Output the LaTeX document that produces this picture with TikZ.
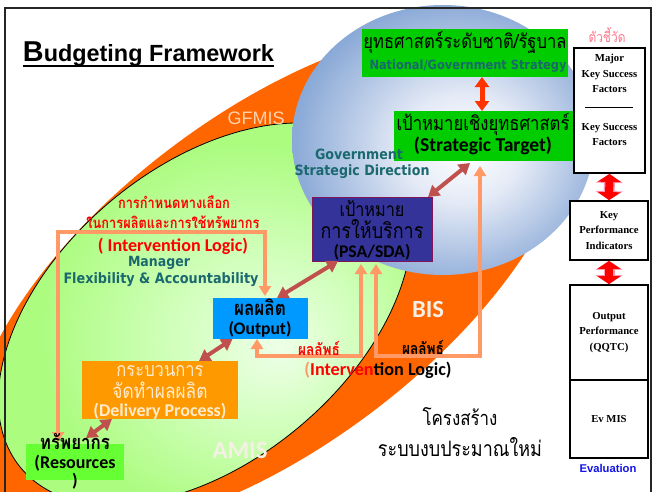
\documentclass[tikz,border=0pt]{standalone}
\usepackage{fontspec}
\usepackage{graphicx}
\usetikzlibrary{arrows.meta}
\setmainfont{Liberation Serif}
\newfontfamily\thai[Script=Thai]{Loma}
\newfontfamily\carl{Carlito}
\newfontfamily\dvs{DejaVu Sans}
\newfontfamily\lsans{Liberation Sans}
\newcommand\fw[2]{\resizebox{#1pt}{!}{#2}}
\newcommand\ft[2]{\scalebox{1}[1.18]{\resizebox{#1pt}{!}{\thai #2}}}
\newcommand\fd[2]{\scalebox{1}[1.12]{\resizebox{#1pt}{!}{\dvs\bfseries #2}}}
\definecolor{orangeC}{RGB}{255,102,0}
\definecolor{greenA}{RGB}{172,252,128}
\definecolor{greenM}{RGB}{212,255,192}
\definecolor{greenB}{RGB}{238,255,232}
\definecolor{blueA}{RGB}{72,116,184}
\definecolor{blueA2}{RGB}{86,130,194}
\definecolor{blueM}{RGB}{142,172,216}
\definecolor{blueL}{RGB}{228,234,246}
\definecolor{boxgreen}{RGB}{0,204,0}
\definecolor{tealT}{RGB}{25,105,110}
\definecolor{psaC}{RGB}{51,51,153}
\definecolor{psaB}{RGB}{130,20,90}
\definecolor{outC}{RGB}{0,153,255}
\definecolor{delC}{RGB}{255,153,0}
\definecolor{delT}{RGB}{255,235,205}
\definecolor{resC}{RGB}{102,255,51}
\definecolor{salmon}{RGB}{255,153,102}
\definecolor{dred}{RGB}{192,80,77}
\definecolor{redT}{RGB}{255,0,0}
\definecolor{pinkT}{RGB}{255,120,140}
\definecolor{oarrow}{RGB}{255,51,0}
\definecolor{gfmisT}{RGB}{255,210,175}
\definecolor{lightT}{RGB}{245,240,230}
\definecolor{evalT}{RGB}{20,20,230}
\definecolor{redglow}{RGB}{255,150,180}
\pgfdeclareradialshading{circglow}{\pgfpoint{4bp}{-2bp}}{color(0bp)=(white); color(10bp)=(blueL); color(26bp)=(blueM); color(40bp)=(blueA2); color(50bp)=(blueA)}
\pgfdeclareradialshading{greenglow}{\pgfpoint{8bp}{-4bp}}{color(0bp)=(greenB); color(9bp)=(greenM); color(22bp)=(greenA); color(50bp)=(greenA)}
\begin{document}
\begin{tikzpicture}[x=1pt,y=-1pt,
  txt/.style={inner sep=0pt, outer sep=0pt},
  fbox/.style={inner sep=0pt, outer sep=0pt},
  rbox/.style={draw=black, line width=1.8pt, fill=white, inner sep=0pt},
  rtext/.style={inner sep=0pt, font=\bfseries\fontsize{10.7}{15.5}\selectfont, align=center},
  darr/.style={draw=dred, line width=4pt, {Triangle[width=13pt,length=11pt]}-{Triangle[width=13pt,length=11pt]}},
  salm/.style={draw=salmon, line width=4pt, line join=miter, {Triangle[width=12pt,length=10pt]}-{Triangle[width=12pt,length=10pt]}},
  barrout/.style={draw=redglow, line width=11pt, {Triangle[width=27pt,length=9pt]}-{Triangle[width=27pt,length=9pt]}},
  barr/.style={draw=red, line width=8pt, {Triangle[width=23pt,length=8pt]}-{Triangle[width=23pt,length=8pt]}},
  oarr/.style={draw=oarrow, line width=5pt, {Triangle[width=14pt,length=10pt]}-{Triangle[width=14pt,length=10pt]}}
]
\useasboundingbox (0,0) rectangle (653,491);
\clip (0,0) rectangle (653,491);
\fill[white] (0,0) rectangle (653,491);
% outer orange ellipse
\begin{scope}[shift={(271.5,280)}, rotate=37]
  \fill[orangeC] (0,0) ellipse [x radius=357, y radius=166];
\end{scope}
% green ellipse
\begin{scope}[shift={(205,314)}, rotate=40]
  \shadedraw[shading=greenglow, draw=black, line width=0.8pt] (0,0) ellipse [x radius=240, y radius=147];
\end{scope}
% blue circle
\shade[shading=circglow] (443,140) ellipse [x radius=151, y radius=135];
% frame
\draw[line width=2.5pt, black!85] (5,8) rectangle (651,540);

% title
\node[txt, anchor=base west] (title) at (23,61) {\fw{251}{\lsans\bfseries{\fontsize{27}{27}\selectfont B}{\fontsize{22}{22}\selectfont udgeting Framework}}};
\draw[line width=1.8pt] ([yshift=-5pt]title.base west) -- ([yshift=-5pt]title.base east);

% region labels
\node[txt, text=gfmisT] (gf) at (256,118) {\fw{57}{\lsans GFMIS}};
\node[txt, text=lightT] (bis) at (428,310) {\fw{32}{\carl\bfseries BIS}};
\node[txt, text=lightT] (amis) at (240,450) {\fw{55}{\carl\bfseries AMIS}};

% boxes
\node[fbox, fill=boxgreen, minimum width=206pt, minimum height=48pt] (nat) at (465,53) {};
\node[fbox, fill=boxgreen, minimum width=179pt, minimum height=50pt] (strat) at (483.5,136) {};
\node[fbox, fill=psaC, draw=psaB, line width=0.8pt, minimum width=120pt, minimum height=64pt] (psa) at (372,229) {};
\node[fbox, fill=outC, minimum width=95pt, minimum height=41pt] (out) at (260.5,318.5) {};
\node[fbox, fill=delC, minimum width=156pt, minimum height=58pt] (del) at (160,390) {};
\node[fbox, fill=resC, minimum width=98pt, minimum height=36pt] (res) at (75,462) {};

% right column
\node[txt, text=pinkT] (kw) at (607,35) {\ft{37}{ตัวชี้วัด}};
\node[rbox, minimum width=71pt, minimum height=125pt] (ksf) at (609.5,110.5) {};
\node[rtext] (ksf1) at (609.5,73.5) {Major\\Key Success\\Factors};
\node[rtext] (ksf2) at (609.5,134.5) {Key Success\\Factors};
\draw[line width=1pt] (585,107) -- (633,107);
\node[rbox, rtext, minimum width=78pt, minimum height=59pt] (kpi) at (609,230.5) {Key\\Performance\\Indicators};
\node[rbox, rtext, minimum width=78pt, minimum height=95pt] (opf) at (609,332.5) {Output\\Performance\\(QQTC)};
\node[rbox, rtext, minimum width=78pt, minimum height=78pt] (evm) at (609,419) {Ev MIS};
\node[txt, text=evalT] (ev) at (608,468) {\fw{57}{\lsans\bfseries Evaluation}};
\draw[barrout] (ksf.south) -- (kpi.north);
\draw[barr] (ksf.south) -- (kpi.north);
\draw[barrout] (kpi.south) -- (opf.north);
\draw[barr] (kpi.south) -- (opf.north);

% connectors
\draw[oarr] ([xshift=17pt]nat.south) -- ([xshift=-1.5pt]strat.north);
\draw[darr] ([xshift=-13.5pt,yshift=-2pt]strat.south) -- ([xshift=-4pt]psa.north east);
\draw[darr] ([xshift=16.5pt]out.north) -- ([xshift=-34pt]psa.south);
\draw[darr] ([xshift=39pt]del.north) -- ([xshift=-28pt]out.south);
\draw[darr] ([xshift=11pt,yshift=6pt]res.north) -- ([xshift=-48pt]del.south);
\coordinate (ltop) at (160,232);
\coordinate (mbot) at (300,356);
\coordinate (rbot) at (430,356);
\draw[salm] ([xshift=-17pt,yshift=2pt]res.north) |- (ltop) -| ([xshift=4.5pt,yshift=2pt]out.north);
\draw[salm] ([xshift=-3.5pt]out.south) |- (mbot) -| ([xshift=-11pt,yshift=-3pt]psa.south);
\draw[salm] ([xshift=4pt,yshift=-3pt]psa.south) |- (rbot) -| ([xshift=-3.5pt,yshift=-5pt]strat.south);

% box texts
\node[txt] (n1) at (465,42) {\ft{203}{ยุทธศาสตร์ระดับชาติ/รัฐบาล}};
\node[txt, text=tealT] (n2) at (468,66) {\fd{197}{National/Government Strategy}};
\node[txt] (s1) at (483,124) {\ft{173}{เป้าหมายเชิงยุทธศาสตร์}};
\node[txt] (s2) at (483,146) {\fw{138}{\carl\bfseries (Strategic Target)}};
\node[txt, text=tealT] (g1) at (359,154) {\fd{88}{Government}};
\node[txt, text=tealT] (g2) at (362,172) {\fd{135}{Strategic Direction}};
\node[txt] (p1) at (372,209) {\ft{65}{เป้าหมาย}};
\node[txt] (p2) at (372,229) {\ft{103}{การให้บริการ}};
\node[txt] (p3) at (372,252) {\fw{77}{\carl\bfseries (PSA/SDA)}};
\node[txt] (o1) at (260,307) {\ft{52}{\bfseries ผลผลิต}};
\node[txt] (o2) at (260,329) {\fw{63}{\carl\bfseries (Output)}};
\node[txt, text=delT] (d1) at (160,371) {\ft{87}{กระบวนการ}};
\node[txt, text=delT] (d2) at (160,390) {\ft{95}{จัดทำผลผลิต}};
\node[txt, text=delT] (d3) at (160,411) {\fw{133}{\carl\bfseries (Delivery Process)}};
\node[txt] (r1) at (75,442) {\ft{70}{\bfseries ทรัพยากร}};
\node[txt] (r2) at (75,463) {\fw{81}{\carl\bfseries (Resources}};
\node[txt] (r3) at (75,481) {\carl\bfseries\fontsize{18}{18}\selectfont )};

% free labels
\node[txt, text=redT] (rt1) at (174,202) {\ft{112}{\bfseries การกำหนดทางเลือก}};
\node[txt, text=redT] (rt2) at (173,222) {\ft{173}{\bfseries ในการผลิตและการใช้ทรัพยากร}};
\node[txt, text=redT] (il1) at (173,246) {\fw{150}{\carl\bfseries ( Intervention Logic)}};
\node[txt, text=tealT] (m1) at (159,263) {\fd{62}{Manager}};
\node[txt, text=tealT] (m2) at (161,280) {\fd{195}{Flexibility \& Accountability}};
\node[txt, text=redT] (pl1) at (319,348) {\ft{42}{\bfseries ผลลัพธ์}};
\node[txt] (pl2) at (423,347) {\ft{42}{\bfseries ผลลัพธ์}};
\node[txt] (il2) at (378,370) {\fw{147}{\carl\bfseries\textcolor{salmon}{(}\textcolor{redT}{ Interven}tion Logic)}};
\node[txt] (k1) at (460,417) {\ft{75}{โครงสร้าง}};
\node[txt] (k2) at (460,447) {\ft{164}{ระบบงบประมาณใหม่}};
\end{tikzpicture}
\end{document}
